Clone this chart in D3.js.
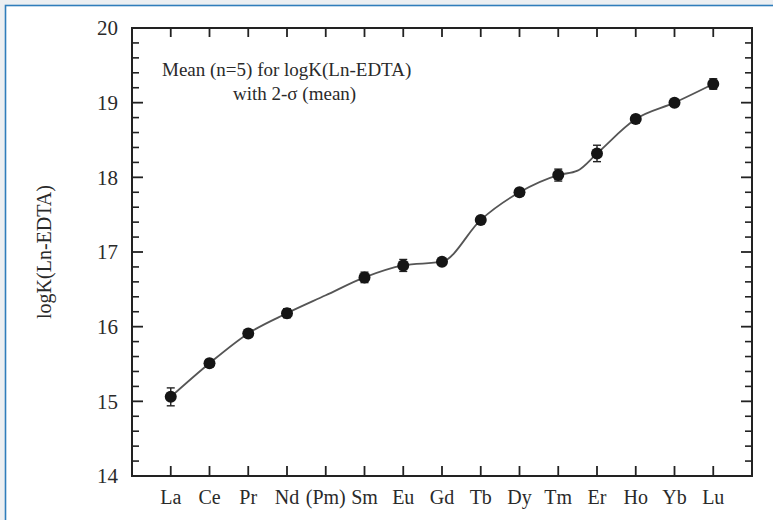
<!DOCTYPE html>
<html>
<head>
<meta charset="utf-8">
<script src="https://cdn.jsdelivr.net/npm/d3@7"></script>
<style>
  html, body { margin: 0; padding: 0; background: #eceff2; }
  svg { display: block; }
  text { font-family: "Liberation Serif", "DejaVu Serif", serif; fill: #2a2a2a; }
</style>
</head>
<body>
<svg id="chart"></svg>
<script>
// lanthanide labels, in the order printed on the x axis
const elements = ["La", "Ce", "Pr", "Nd", "(Pm)", "Sm", "Eu", "Gd", "Tb", "Dy", "Tm", "Er", "Ho", "Yb", "Lu"];

// measured means (Pm has none) and 2-sigma of the mean
const meanNames = ["La", "Ce", "Pr", "Nd", "Sm", "Eu", "Gd", "Tb", "Dy", "Tm", "Er", "Ho", "Yb", "Lu"];
const meanValues = [15.06, 15.51, 15.91, 16.18, 16.66, 16.82, 16.87, 17.43, 17.80, 18.03, 18.32, 18.78, 19.00, 19.25];
const sigmaValues = [0.12, 0.05, 0.05, 0.06, 0.07, 0.08, 0.04, 0.04, 0.05, 0.08, 0.11, 0.05, 0.04, 0.07];

// guide curve (position = index on the element axis)
const curvePos = [0, 1, 2, 3, 4, 5, 6, 7, 8, 9, 10, 10.5, 11, 12, 13, 14];
const curveValues = [15.06, 15.51, 15.91, 16.18, 16.42, 16.66, 16.82, 16.87, 17.43, 17.80, 18.03, 18.09, 18.32, 18.78, 19.00, 19.25];

const yMajorTicks = [14, 15, 16, 17, 18, 19, 20];

const width = 773, height = 520;
const margin = { top: 28, right: 21, bottom: 44, left: 132 };

const svg = d3.select("#chart")
    .attr("width", width)
    .attr("height", height);

// framed panel
svg.append("rect")
    .attr("x", 5.5).attr("y", 5.5)
    .attr("width", width + 20).attr("height", height + 20)
    .attr("fill", "#ffffff")
    .attr("stroke", "#2f7dbb")
    .attr("stroke-width", 1.6);

const innerW = width - margin.left - margin.right;
const innerH = height - margin.top - margin.bottom;

const chart = svg.append("g")
    .attr("transform", `translate(${margin.left}, ${margin.top})`);

const x = d3.scaleLinear().domain([-1, elements.length]).range([0, innerW]);
const y = d3.scaleLinear().domain([14, 20]).range([innerH, 0]);

const minorTicks = d3.range(141, 200).filter(d => d % 2 === 0 && d % 10 !== 0).map(d => d / 10);

// ticks (all pointing inward)
const tickStroke = "#222";
const leftAxis = chart.append("g");
leftAxis.selectAll(".major").data(yMajorTicks).join("line")
    .attr("x1", 0).attr("x2", 11)
    .attr("y1", d => y(d)).attr("y2", d => y(d))
    .attr("stroke", tickStroke).attr("stroke-width", 1.8);
leftAxis.selectAll(".minor").data(minorTicks).join("line")
    .attr("x1", 0).attr("x2", 7)
    .attr("y1", d => y(d)).attr("y2", d => y(d))
    .attr("stroke", tickStroke).attr("stroke-width", 1.6);

const rightAxis = chart.append("g");
rightAxis.selectAll(".major").data(yMajorTicks).join("line")
    .attr("x1", innerW).attr("x2", innerW - 11)
    .attr("y1", d => y(d)).attr("y2", d => y(d))
    .attr("stroke", tickStroke).attr("stroke-width", 1.8);
rightAxis.selectAll(".minor").data(minorTicks).join("line")
    .attr("x1", innerW).attr("x2", innerW - 7)
    .attr("y1", d => y(d)).attr("y2", d => y(d))
    .attr("stroke", tickStroke).attr("stroke-width", 1.6);

chart.append("g").selectAll("line").data(elements).join("line")
    .attr("x1", (d, i) => x(i)).attr("x2", (d, i) => x(i))
    .attr("y1", innerH).attr("y2", innerH - 10)
    .attr("stroke", tickStroke).attr("stroke-width", 1.8);
chart.append("g").selectAll("line").data(elements).join("line")
    .attr("x1", (d, i) => x(i)).attr("x2", (d, i) => x(i))
    .attr("y1", 0).attr("y2", 9)
    .attr("stroke", tickStroke).attr("stroke-width", 1.8);

// frame
chart.append("rect")
    .attr("width", innerW).attr("height", innerH)
    .attr("fill", "none")
    .attr("stroke", "#222").attr("stroke-width", 2);

// tick labels
chart.append("g").selectAll("text").data(yMajorTicks).join("text")
    .attr("x", -14).attr("y", d => y(d))
    .attr("dy", "0.35em")
    .attr("text-anchor", "end")
    .style("font-size", "21px")
    .text(d => d);

chart.append("g").selectAll("text").data(elements).join("text")
    .attr("x", (d, i) => x(i)).attr("y", innerH + 28)
    .attr("text-anchor", "middle")
    .style("font-size", "20px")
    .text(d => d);

svg.append("text")
    .attr("transform", `translate(51, ${margin.top + innerH / 2}) rotate(-90)`)
    .attr("text-anchor", "middle")
    .style("font-size", "20px")
    .text("logK(Ln-EDTA)");

// guide curve
const line = d3.line()
    .x(d => x(d[0]))
    .y(d => y(d[1]))
    .curve(d3.curveMonotoneX);

chart.append("path")
    .datum(curvePos.map((p, i) => [p, curveValues[i]]))
    .attr("d", line)
    .attr("fill", "none")
    .attr("stroke", "#555")
    .attr("stroke-width", 1.8)
    .attr("stroke-linejoin", "round");

// points with 2-sigma bars
const points = meanNames.map((name, i) => ({
    pos: elements.indexOf(name),
    value: meanValues[i],
    sigma: sigmaValues[i],
}));

const marks = chart.append("g").selectAll("g").data(points).join("g");
marks.append("line")
    .attr("x1", d => x(d.pos)).attr("x2", d => x(d.pos))
    .attr("y1", d => y(d.value - d.sigma)).attr("y2", d => y(d.value + d.sigma))
    .attr("stroke", "#222").attr("stroke-width", 1.4);
marks.selectAll(".cap").data(d => [d.value - d.sigma, d.value + d.sigma].map(v => ({ pos: d.pos, v })))
    .join("line")
    .attr("x1", d => x(d.pos) - 4).attr("x2", d => x(d.pos) + 4)
    .attr("y1", d => y(d.v)).attr("y2", d => y(d.v))
    .attr("stroke", "#222").attr("stroke-width", 1.4);
marks.append("circle")
    .attr("cx", d => x(d.pos)).attr("cy", d => y(d.value))
    .attr("r", 6)
    .attr("fill", "#151515");

// annotation
chart.append("text")
    .attr("x", 162 - margin.left).attr("y", 76 - margin.top)
    .style("font-size", "19px")
    .text("Mean (n=5) for logK(Ln-EDTA)");
chart.append("text")
    .attr("x", 233 - margin.left).attr("y", 100 - margin.top)
    .style("font-size", "19px")
    .text("with 2-σ (mean)");
</script>
</body>
</html>
